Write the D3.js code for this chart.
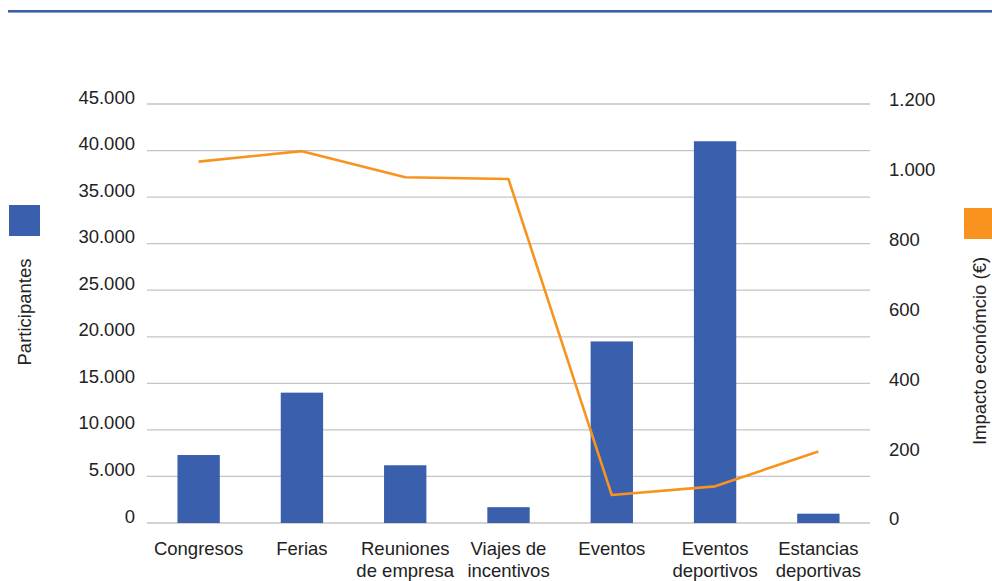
<!DOCTYPE html>
<html>
<meta charset="UTF-8">
<head>
<title>Participantes e impacto económico</title>
<style>
  body { margin: 0; background: #fff; }
  svg { display: block; font-family: "Liberation Sans", Arial, Helvetica, sans-serif; }
  .tick text { fill: #222; font-size: 18.5px; }
  .grid line { stroke: #c4c4c4; stroke-width: 1.3px; }
</style>
</head>
<body>
<svg id="chart" width="992" height="581"></svg>
<script src="https://d3js.org/d3.v7.min.js"></script>
<script>
// data
let categories = [
  ["Congresos"], ["Ferias"], ["Reuniones", "de empresa"], ["Viajes de", "incentivos"],
  ["Eventos"], ["Eventos", "deportivos"], ["Estancias", "deportivas"]
];
let participantes = [7300, 14000, 6200, 1700, 19500, 41000, 1000];
let impacto = [1035, 1065, 990, 985, 80, 105, 205];
let leftTicks = [0, 5000, 10000, 15000, 20000, 25000, 30000, 35000, 40000, 45000];
let rightTicks = [0, 200, 400, 600, 800, 1000, 1200];

let blue = "#3a60ad", orange = "#f7931e";

let svg = d3.select("#chart");

// top rule
svg.append("rect").attr("x", 8).attr("y", 10).attr("width", 984).attr("height", 2.6).attr("fill", blue);

let x = d3.scaleBand()
    .domain(d3.range(categories.length))
    .range([147, 870])
    .paddingInner(0.59)
    .paddingOuter(0.295);

let y = d3.scaleLinear().domain([0, 45000]).range([523, 104]);
let y2 = d3.scaleLinear().domain([0, 1200]).range([523, 104]);

let fmt = d3.formatLocale({decimal: ",", thousands: ".", grouping: [3], currency: ["", "€"]}).format(",");

// gridlines
svg.append("g").attr("class", "grid")
  .selectAll("line").data(leftTicks).enter().append("line")
  .attr("x1", 147).attr("x2", 870)
  .attr("y1", d => y(d)).attr("y2", d => y(d));

// left axis labels
svg.append("g")
  .attr("transform", "translate(147,0)")
  .call(d3.axisLeft(y).tickValues(leftTicks).tickFormat(fmt).tickSize(0).tickPadding(12))
  .call(g => g.select(".domain").remove())
  .selectAll("text").attr("dy", "-0.05em");

// right axis labels
svg.append("g")
  .attr("transform", "translate(870,0)")
  .call(d3.axisRight(y2).tickValues(rightTicks).tickFormat(fmt).tickSize(0).tickPadding(19))
  .call(g => g.select(".domain").remove())
  .selectAll("text").attr("dy", "0.1em");

// bars
svg.append("g").selectAll("rect").data(participantes).enter().append("rect")
  .attr("x", (d, i) => x(i))
  .attr("width", x.bandwidth())
  .attr("y", d => y(d))
  .attr("height", d => y(0) - y(d))
  .attr("fill", blue);

// line
let line = d3.line()
  .x((d, i) => x(i) + x.bandwidth() / 2)
  .y(d => y2(d));

svg.append("path").datum(impacto)
  .attr("d", line)
  .attr("fill", "none")
  .attr("stroke", orange)
  .attr("stroke-width", 2.6)
  .attr("stroke-linejoin", "round");

// category labels
let xl = svg.append("g").selectAll("text").data(categories).enter().append("text")
  .attr("text-anchor", "middle")
  .attr("font-size", "18.5px")
  .attr("fill", "#222")
  .attr("transform", (d, i) => "translate(" + (x(i) + x.bandwidth() / 2) + ",555)");
xl.selectAll("tspan").data(d => d).enter().append("tspan")
  .attr("x", 0)
  .attr("y", (d, i) => i * 22)
  .text(d => d);

// legend squares and axis titles
svg.append("rect").attr("x", 9).attr("y", 205).attr("width", 31).attr("height", 31).attr("fill", blue);
svg.append("rect").attr("x", 964).attr("y", 208).attr("width", 31).attr("height", 31).attr("fill", orange);

svg.append("text")
  .attr("transform", "translate(31,312) rotate(-90)")
  .attr("text-anchor", "middle")
  .attr("font-size", "18.5px").attr("fill", "#222")
  .text("Participantes");

svg.append("text")
  .attr("transform", "translate(986,351) rotate(-90)")
  .attr("text-anchor", "middle")
  .attr("font-size", "18.5px").attr("fill", "#222")
  .text("Impacto económcio (€)");
</script>
</body>
</html>
